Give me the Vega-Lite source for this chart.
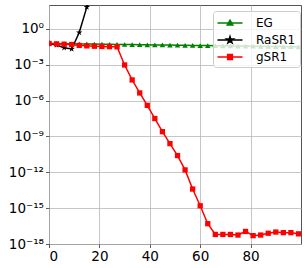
{
  "$schema": "https://vega.github.io/schema/vega-lite/v6.json",
  "width": 252,
  "height": 239,
  "autosize": "none",
  "padding": {"left": 49, "top": 5, "right": 5, "bottom": 24},
  "background": "white",
  "config": {
    "view": {"stroke": "#555555", "strokeWidth": 1},
    "axis": {
      "labelFont": "DejaVu Sans",
      "labelFontSize": 13.5,
      "labelColor": "black",
      "tickColor": "#333333",
      "tickSize": 3.5,
      "tickWidth": 0.8,
      "domain": false,
      "gridColor": "#b8b8b8",
      "gridWidth": 0.8,
      "labelPadding": 2,
      "title": null
    },
    "legend": {
      "labelFont": "DejaVu Sans",
      "labelFontSize": 12,
      "labelColor": "black"
    }
  },
  "data": {
    "values": [
      {"series": "EG", "iter": 0, "value": 6.03e-2},
      {"series": "EG", "iter": 3, "value": 5.92e-2},
      {"series": "EG", "iter": 6, "value": 5.80e-2},
      {"series": "EG", "iter": 9, "value": 5.69e-2},
      {"series": "EG", "iter": 12, "value": 5.57e-2},
      {"series": "EG", "iter": 15, "value": 5.47e-2},
      {"series": "EG", "iter": 18, "value": 5.36e-2},
      {"series": "EG", "iter": 21, "value": 5.26e-2},
      {"series": "EG", "iter": 24, "value": 5.15e-2},
      {"series": "EG", "iter": 27, "value": 5.06e-2},
      {"series": "EG", "iter": 30, "value": 4.95e-2},
      {"series": "EG", "iter": 33, "value": 4.86e-2},
      {"series": "EG", "iter": 36, "value": 4.76e-2},
      {"series": "EG", "iter": 39, "value": 4.68e-2},
      {"series": "EG", "iter": 42, "value": 4.58e-2},
      {"series": "EG", "iter": 45, "value": 4.50e-2},
      {"series": "EG", "iter": 48, "value": 4.41e-2},
      {"series": "EG", "iter": 51, "value": 4.32e-2},
      {"series": "EG", "iter": 54, "value": 4.24e-2},
      {"series": "EG", "iter": 57, "value": 4.16e-2},
      {"series": "EG", "iter": 60, "value": 4.07e-2},
      {"series": "EG", "iter": 63, "value": 4.00e-2},
      {"series": "EG", "iter": 66, "value": 3.92e-2},
      {"series": "EG", "iter": 69, "value": 3.85e-2},
      {"series": "EG", "iter": 72, "value": 3.77e-2},
      {"series": "EG", "iter": 75, "value": 3.70e-2},
      {"series": "EG", "iter": 78, "value": 3.62e-2},
      {"series": "EG", "iter": 81, "value": 3.56e-2},
      {"series": "EG", "iter": 84, "value": 3.48e-2},
      {"series": "EG", "iter": 87, "value": 3.42e-2},
      {"series": "EG", "iter": 90, "value": 3.35e-2},
      {"series": "EG", "iter": 93, "value": 3.29e-2},
      {"series": "EG", "iter": 96, "value": 3.22e-2},
      {"series": "EG", "iter": 99, "value": 3.16e-2},
      {"series": "RaSR1", "iter": 0, "value": 6.03e-2},
      {"series": "RaSR1", "iter": 3, "value": 4.47e-2},
      {"series": "RaSR1", "iter": 6, "value": 2.69e-2},
      {"series": "RaSR1", "iter": 9, "value": 2.09e-2},
      {"series": "RaSR1", "iter": 12, "value": 5.01e-1},
      {"series": "RaSR1", "iter": 15, "value": 6.61e1},
      {"series": "RaSR1", "iter": 18, "value": 1.58e3},
      {"series": "gSR1", "iter": 0, "value": 6.03e-2},
      {"series": "gSR1", "iter": 3, "value": 5.62e-2},
      {"series": "gSR1", "iter": 6, "value": 5.25e-2},
      {"series": "gSR1", "iter": 9, "value": 4.90e-2},
      {"series": "gSR1", "iter": 12, "value": 4.17e-2},
      {"series": "gSR1", "iter": 15, "value": 3.80e-2},
      {"series": "gSR1", "iter": 18, "value": 3.55e-2},
      {"series": "gSR1", "iter": 21, "value": 3.39e-2},
      {"series": "gSR1", "iter": 24, "value": 3.24e-2},
      {"series": "gSR1", "iter": 27, "value": 3.16e-2},
      {"series": "gSR1", "iter": 30, "value": 9.55e-4},
      {"series": "gSR1", "iter": 33, "value": 5.37e-5},
      {"series": "gSR1", "iter": 36, "value": 4.37e-6},
      {"series": "gSR1", "iter": 39, "value": 3.98e-7},
      {"series": "gSR1", "iter": 42, "value": 3.16e-8},
      {"series": "gSR1", "iter": 45, "value": 2.51e-9},
      {"series": "gSR1", "iter": 48, "value": 2.51e-10},
      {"series": "gSR1", "iter": 51, "value": 2.51e-11},
      {"series": "gSR1", "iter": 54, "value": 1.58e-12},
      {"series": "gSR1", "iter": 57, "value": 3.98e-14},
      {"series": "gSR1", "iter": 60, "value": 1.58e-15},
      {"series": "gSR1", "iter": 63, "value": 5.01e-17},
      {"series": "gSR1", "iter": 66, "value": 6.31e-18},
      {"series": "gSR1", "iter": 69, "value": 6.31e-18},
      {"series": "gSR1", "iter": 72, "value": 6.31e-18},
      {"series": "gSR1", "iter": 75, "value": 5.62e-18},
      {"series": "gSR1", "iter": 78, "value": 1.12e-17},
      {"series": "gSR1", "iter": 81, "value": 5.01e-18},
      {"series": "gSR1", "iter": 84, "value": 5.62e-18},
      {"series": "gSR1", "iter": 87, "value": 7.94e-18},
      {"series": "gSR1", "iter": 90, "value": 1.0e-17},
      {"series": "gSR1", "iter": 93, "value": 8.91e-18},
      {"series": "gSR1", "iter": 96, "value": 8.91e-18},
      {"series": "gSR1", "iter": 99, "value": 7.08e-18}
    ]
  },
  "encoding": {
    "x": {
      "field": "iter", "type": "quantitative",
      "scale": {"domain": [0, 100], "nice": false, "zero": false},
      "axis": {"values": [0, 20, 40, 60, 80], "grid": true}
    },
    "y": {
      "field": "value", "type": "quantitative",
      "scale": {"type": "log", "domain": [1e-18, 100], "nice": false},
      "axis": {
        "values": [1, 1e-3, 1e-6, 1e-9, 1e-12, 1e-15, 1e-18],
        "grid": true,
        "labelExpr": "round(log(datum.value)/LN10) == 0 ? '10⁰' : round(log(datum.value)/LN10) == -3 ? '10⁻³' : round(log(datum.value)/LN10) == -6 ? '10⁻⁶' : round(log(datum.value)/LN10) == -9 ? '10⁻⁹' : round(log(datum.value)/LN10) == -12 ? '10⁻¹²' : round(log(datum.value)/LN10) == -15 ? '10⁻¹⁵' : '10⁻¹⁸'"
      }
    }
  },
  "layer": [
    {
      "transform": [{"filter": "datum.series == 'EG'"}],
      "mark": {"type": "line", "strokeWidth": 1.5, "clip": true, "color": "#008000"},
      "encoding": {}
    },
    {
      "transform": [{"filter": "datum.series == 'EG'"}],
      "mark": {"type": "point", "shape": "triangle-up", "filled": true, "opacity": 1, "size": 30, "clip": true, "color": "#008000"},
      "encoding": {}
    },
    {
      "transform": [{"filter": "datum.series == 'RaSR1'"}],
      "mark": {"type": "line", "strokeWidth": 1.5, "clip": true, "color": "#000000"},
      "encoding": {}
    },
    {
      "transform": [{"filter": "datum.series == 'RaSR1'"}],
      "mark": {"type": "point", "shape": "M0,-1L0.223,-0.307L0.951,-0.309L0.361,0.117L0.588,0.809L0,0.38L-0.588,0.809L-0.361,0.117L-0.951,-0.309L-0.223,-0.307Z", "filled": true, "opacity": 1, "size": 45, "clip": true, "color": "#000000"},
      "encoding": {}
    },
    {
      "transform": [{"filter": "datum.series == 'gSR1'"}],
      "mark": {"type": "line", "strokeWidth": 1.5, "clip": true, "color": "#ff0000"},
      "encoding": {}
    },
    {
      "transform": [{"filter": "datum.series == 'gSR1'"}],
      "mark": {"type": "point", "shape": "square", "filled": true, "opacity": 1, "size": 28, "clip": true, "color": "#ff0000"},
      "encoding": {}
    },
    {
      "transform": [{"filter": "datum.iter == 0"}],
      "mark": {"type": "point", "filled": true, "opacity": 0, "clip": true},
      "encoding": {
        "color": {
          "field": "series", "type": "nominal",
          "scale": {"domain": ["EG", "RaSR1", "gSR1"], "range": ["#008000", "#000000", "#ff0000"]},
          "legend": {
            "title": null,
            "orient": "none",
            "legendX": 164,
            "legendY": 6,
            "padding": 4,
            "fillColor": "rgba(255,255,255,0.8)",
            "strokeColor": "#cccccc",
            "cornerRadius": 3,
            "symbolSize": 196,
            "symbolOffset": 5,
            "symbolOpacity": 1,
            "symbolStrokeWidth": 1.5,
            "labelOffset": 18,
            "rowPadding": 3,
            "encode": {
              "symbols": {"update": {"stroke": {"scale": "color", "field": "value"}, "strokeWidth": {"value": 1.5}, "opacity": {"value": 1}}}
            }
          }
        },
        "shape": {
          "field": "series", "type": "nominal",
          "scale": {
            "domain": ["EG", "RaSR1", "gSR1"],
            "range": [
              "M-1.79,0H1.79M0,-0.4L0.4,0.3H-0.4Z",
              "M-1.79,0H1.79M0,-0.5L0.112,-0.154L0.476,-0.155L0.181,0.059L0.294,0.405L0,0.19L-0.294,0.405L-0.181,0.059L-0.476,-0.155L-0.112,-0.154Z",
              "M-1.79,0H1.79M-0.34,-0.34H0.34V0.34H-0.34Z"
            ]
          }
        }
      }
    }
  ]
}
